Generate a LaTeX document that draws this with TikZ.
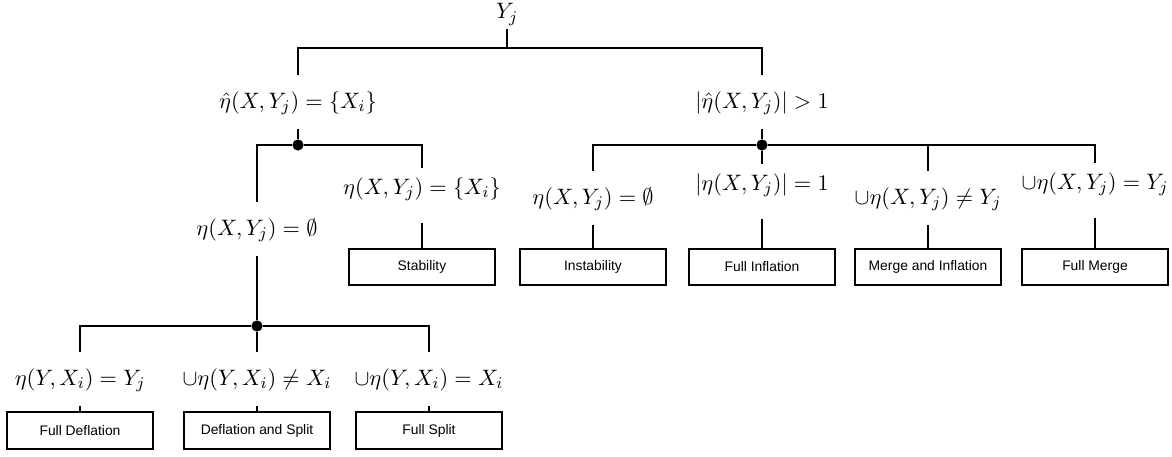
\documentclass[tikz,border=0pt]{standalone}
\usepackage{amsmath, amssymb}
\usepackage{fontspec}
\newfontfamily\boxfont{Liberation Sans}
\usetikzlibrary{positioning,calc}

\begin{document}
\begin{tikzpicture}[
        x=0.01724cm, y=-0.01724cm,
        link/.style={line width=0.9pt},
        cond/.style={inner xsep=1pt, inner ysep=7.5pt, text height=8.5pt, text depth=2.6pt, anchor=base, font=\fontsize{11}{13}\selectfont},
        condup/.style={cond, text height=5pt, text depth=6.3pt},
        res/.style={draw, line width=0.9pt, inner sep=0pt, minimum width=72pt, minimum height=18pt, font=\boxfont\fontsize{6.8}{8.2}\selectfont},
        junc/.style={circle, fill, inner sep=0pt, minimum size=5.5pt}
    ]
        \useasboundingbox (0,0) rectangle (1172,457);

        \node[inner sep=2.5pt, text depth=2.3pt, anchor=base, font=\fontsize{11}{13}\selectfont] (yj) at (507,19) {$Y_j$};
        \coordinate (top) at (507,48);

        \node[cond] (hat1) at (298,108) {$\hat{\eta}(X,Y_j) = \{X_i\}$};
        \node[cond] (hat2) at (762,108) {$|\hat{\eta}(X,Y_j)| > 1$};

        \node[junc] (jl) at (298,145) {};
        \node[junc] (jr) at (762,145) {};
        \node[junc] (jb) at (257,326) {};

        \node[cond] (empty1) at (257,235) {$\eta(X,Y_j) = \emptyset$};
        \node[condup] (same) at (422,194) {$\eta(X,Y_j) = \{X_i\}$};
        \node[res] (stab) at (422,267) {Stability};

        \node[cond] (empty2) at (593,204) {$\eta(X,Y_j) = \emptyset$};
        \node[condup] (one) at (762,190) {$|\eta(X,Y_j)| = 1$};
        \node[cond] (neq) at (928,204) {$\cup\eta(X,Y_j) \neq Y_j$};
        \node[condup] (eq) at (1095,189) {$\cup\eta(X,Y_j) = Y_j$};

        \node[res] (inst) at (593,267) {Instability};
        \node[res] (finf) at (762,267) {Full Inflation};
        \node[res] (mi) at (928,267) {Merge and Inflation};
        \node[res] (fm) at (1095,267) {Full Merge};

        \node[cond] (defl) at (80,385) {$\eta(Y,X_i) = Y_j$};
        \node[cond] (neqx) at (257,385) {$\cup\eta(Y,X_i) \neq X_i$};
        \node[cond] (eqx) at (429,385) {$\cup\eta(Y,X_i) = X_i$};

        \node[res] (fdef) at (80,430.5) {Full Deflation};
        \node[res] (ds) at (257,430.5) {Deflation and Split};
        \node[res] (fsplit) at (429,430.5) {Full Split};

        \coordinate (mid) at (jr -| neq);

        \draw[link] (yj) -- (top);
        \draw[link] (hat1) |- (top) -| (hat2);

        \draw[link] (hat1) -- (jl);
        \draw[link] (empty1) |- (jl) -| (same);

        \draw[link] (hat2) -- (jr);
        \draw[link] (empty2) |- (jr) -| (eq);
        \draw[link] (jr) -- (one);
        \draw[link] (mid) -- (neq);

        \draw[link] (empty1) -- (jb);
        \draw[link] (defl) |- (jb) -| (eqx);
        \draw[link] (jb) -- (neqx);

        \foreach \a/\b in {same/stab, empty2/inst, one/finf, neq/mi, eq/fm, defl/fdef, neqx/ds, eqx/fsplit}
            \draw[link] (\a) -- (\b);
    \end{tikzpicture}
\end{document}
